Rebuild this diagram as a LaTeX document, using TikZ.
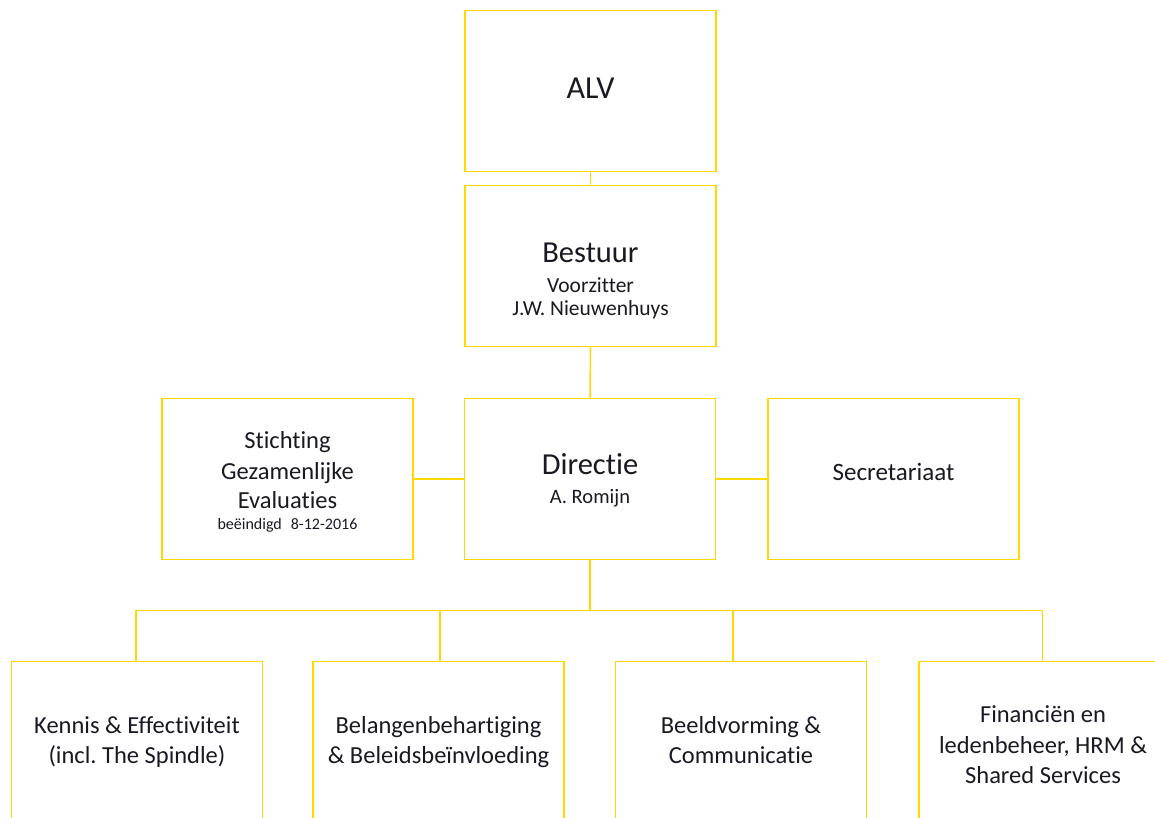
\documentclass[tikz,border=0pt]{standalone}
\usepackage{fontspec}
\setmainfont{Carlito}[Ligatures={NoCommon,NoRequired},RawFeature={-dlig}]
\usetikzlibrary{calc}
\frenchspacing
\definecolor{gold}{RGB}{255,216,0}
\definecolor{ink}{RGB}{25,25,35}
\newcommand{\fs}[1]{\fontsize{#1}{#1}\selectfont}
\begin{document}
\begin{tikzpicture}[x=1pt,y=-1pt,
  box/.style={draw=gold,line width=1.5pt,minimum width=251pt,minimum height=161pt,inner sep=0pt,fill=white},
  conn/.style={draw=gold,line width=1.5pt},
  txt/.style={anchor=base,text=ink,inner sep=0pt}]
\useasboundingbox (0,0) rectangle (1155,818);
\clip (0,0) rectangle (1155,818);
\fill[white] (0,0) rectangle (1155,818);
% boxes
\node[box] (alv) at (590.5,91) {};
\node[box] (bestuur) at (590.5,266) {};
\node[box] (directie) at (590,479) {};
\node[box] (stichting) at (287.5,479) {};
\node[box] (secr) at (893.5,479) {};
\node[box] (b1) at (137,742) {};
\node[box] (b2) at (438.5,742) {};
\node[box] (b3) at (741,742) {};
\node[box] (b4) at (1044.5,742) {};
% connectors
\draw[conn] (alv.south) -- (bestuur.north);
\draw[conn] (bestuur.south) -- (directie.north);
\draw[conn] (directie.west) -- (stichting.east);
\draw[conn] (directie.east) -- (secr.west);
\coordinate (bus) at ($(directie.south)+(0,50)$);
\draw[conn] (directie.south) -- (bus);
\draw[conn] ([xshift=-1pt]b1.north) |- (bus) -| ([xshift=-2pt]b4.north);
\draw[conn] ([xshift=1.5pt]b2.north) -- ([xshift=1.5pt]b2.north |- bus);
\draw[conn] ([xshift=-8pt]b3.north) -- ([xshift=-8pt]b3.north |- bus);
% texts
\node[txt] (talv) at (590.5,99) {\fs{32}ALV};
\node[txt] (tbest) at (590.5,262) {\fs{30.5}Bestuur};
\node[txt] (tvoor) at (590.5,292) {\fs{21.5}Voorzitter};
\node[txt] (tjw) at (590.5,315) {\fs{21.5}J.W. Nieuwenhuys};
\node[txt] (tdir) at (590,474) {\fs{30.5}Directie};
\node[txt] (trom) at (590,503) {\fs{20.5}A. Romijn};
\node[txt] (ts1) at (287.5,448) {\fs{24.5}Stichting};
\node[txt] (ts2) at (287.5,479) {\fs{24.5}Gezamenlijke};
\node[txt] (ts3) at (287.5,508) {\fs{24.5}Evaluaties};
\node[txt] (ts4) at (287.5,529) {\fs{16}beëindigd\hspace{9pt}8-12-2016};
\node[txt] (tsec) at (893.5,480) {\fs{25}Secretariaat};
\node[txt] (tk1) at (137,733) {\fs{24.5}Kennis \& Effectiviteit};
\node[txt] (tk2) at (137,763) {\fs{24.5}(incl. The Spindle)};
\node[txt] (tb1) at (438.5,733) {\fs{24.5}Belangenbehartiging};
\node[txt] (tb2) at (438.5,763) {\fs{24.5}\& Beleidsbeïnvloeding};
\node[txt] (tc1) at (741,733) {\fs{24.5}Beeldvorming \&};
\node[txt] (tc2) at (741,763) {\fs{24.5}Communicatie};
\node[txt] (tf1) at (1043,722) {\fs{24.5}Financiën en};
\node[txt] (tf2) at (1043,753) {\fs{24.5}ledenbeheer, HRM \&};
\node[txt] (tf3) at (1043,783) {\fs{24.5}Shared Services};
\end{tikzpicture}
\end{document}
